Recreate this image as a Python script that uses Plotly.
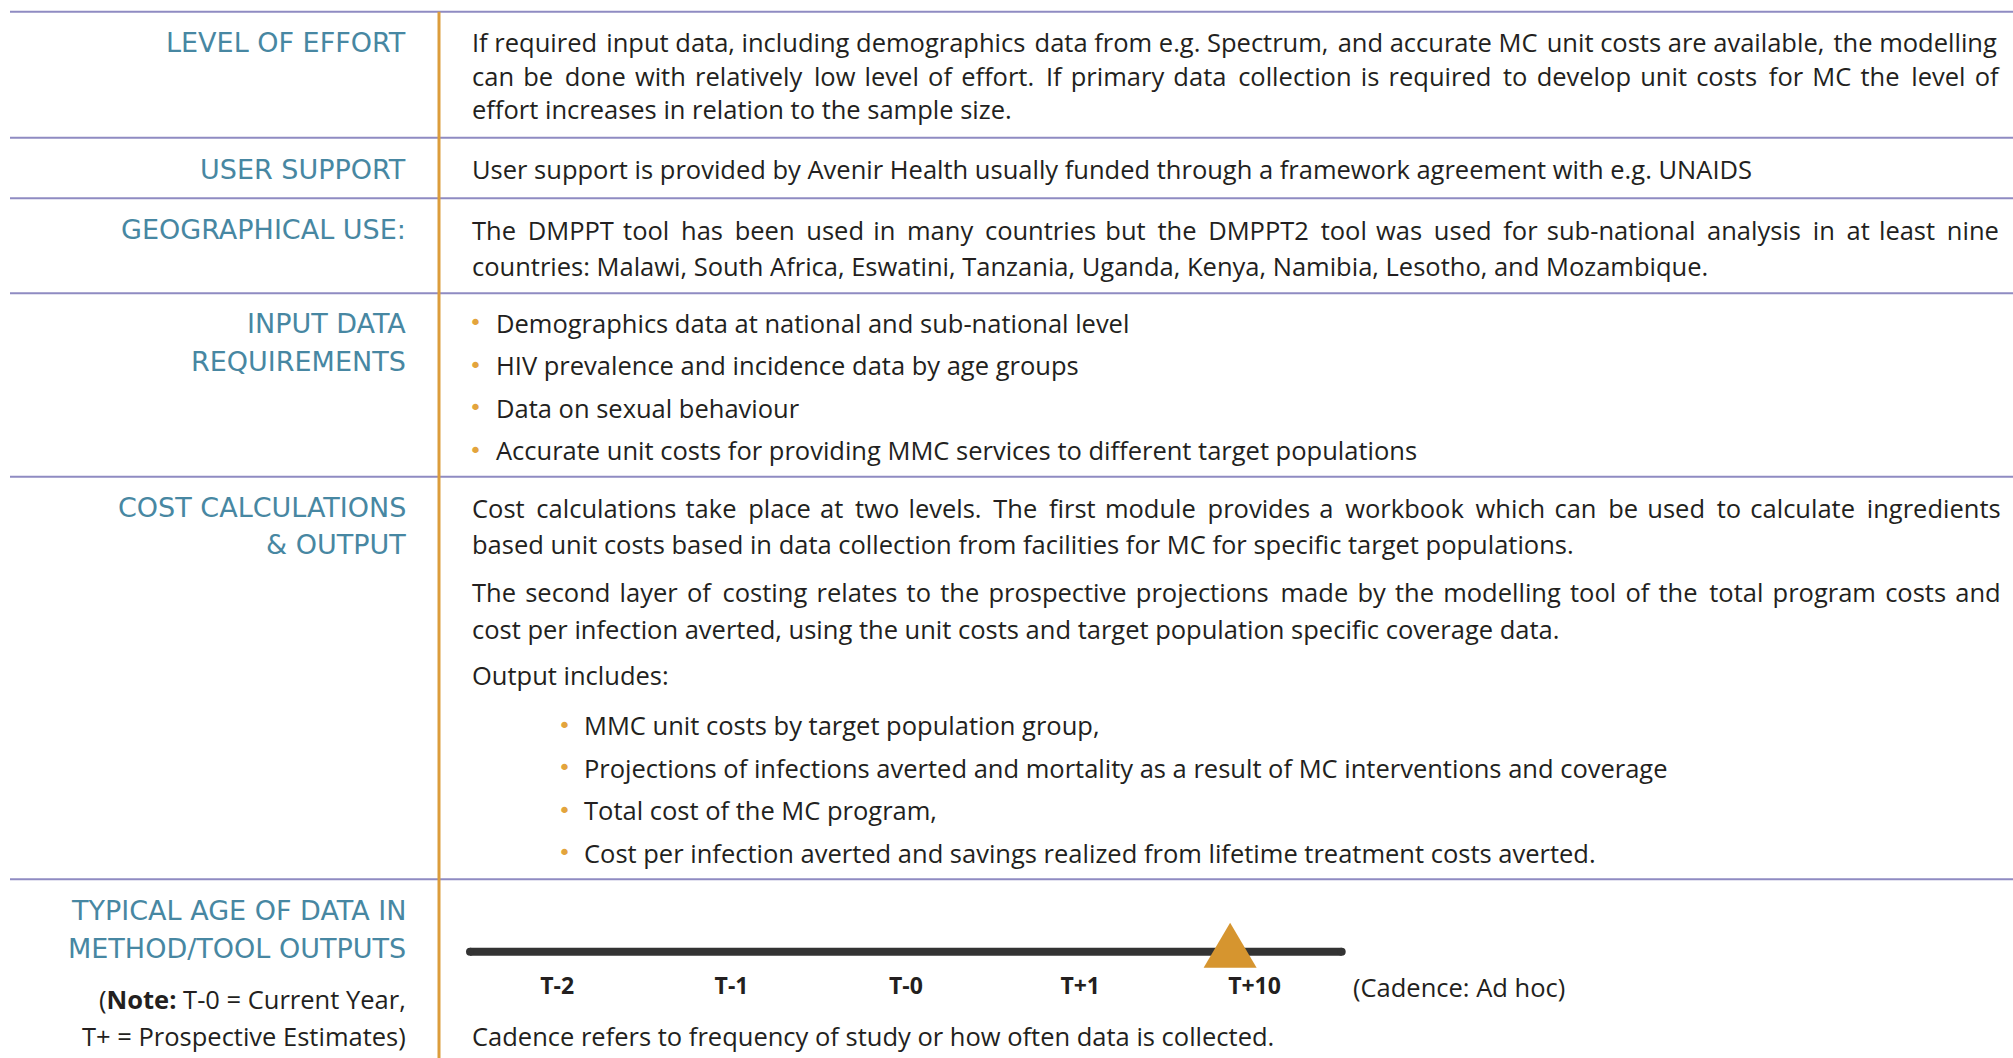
import plotly.graph_objects as go

W, H = 2013, 1058

# ---------------- data ----------------
section_labels = [
    ["LEVEL OF EFFORT"],
    ["USER SUPPORT"],
    ["GEOGRAPHICAL USE:"],
    ["INPUT DATA", "REQUIREMENTS"],
    ["COST CALCULATIONS", "& OUTPUT"],
    ["TYPICAL AGE OF DATA IN", "METHOD/TOOL OUTPUTS"],
]

effort_lines = [
    "If required input data, including demographics data from e.g. Spectrum, and accurate MC unit costs are available, the modelling",
    "can be done with relatively low level of effort. If primary data collection is required to develop unit costs for MC the level of",
    "effort increases in relation to the sample size.",
]
support_lines = [
    "User support is provided by Avenir Health usually funded through a framework agreement with e.g. UNAIDS",
]
geo_lines = [
    "The DMPPT tool has been used in many countries but the DMPPT2 tool was used for sub-national analysis in at least nine",
    "countries: Malawi, South Africa, Eswatini, Tanzania, Uganda, Kenya, Namibia, Lesotho, and Mozambique.",
]
input_bullets = [
    "Demographics data at national and sub-national level",
    "HIV prevalence and incidence data by age groups",
    "Data on sexual behaviour",
    "Accurate unit costs for providing MMC services to different target populations",
]
cost_para1 = [
    "Cost calculations take place at two levels. The first module provides a workbook which can be used to calculate ingredients",
    "based unit costs based in data collection from facilities for MC for specific target populations.",
]
cost_para2 = [
    "The second layer of costing relates to the prospective projections made by the modelling tool of the total program costs and",
    "cost per infection averted, using the unit costs and target population specific coverage data.",
]
output_heading = "Output includes:"
output_bullets = [
    "MMC unit costs by target population group,",
    "Projections of infections averted and mortality as a result of MC interventions and coverage",
    "Total cost of the MC program,",
    "Cost per infection averted and savings realized from lifetime treatment costs averted.",
]
note_lines = ["(<b>Note:</b> T-0 = Current Year,", "T+ = Prospective Estimates)"]

timeline_labels = ["T-2", "T-1", "T-0", "T+1", "T+10"]
timeline_index = [0, 1, 2, 3, 4]
typical_age_index = 3.86          # where the marker sits on the T-scale
cadence_text = "(Cadence: Ad hoc)"
cadence_note = "Cadence refers to frequency of study or how often data is collected."

# ---------------- styles / layout ----------------
BODY_FONT = "Open Sans"
LABEL_FONT = "DejaVu Sans"
TEXT_C = "#231f20"
LABEL_C = "#4787a2"
BULLET_C = "#e3a43c"
RULE_C = "#8f8bc2"
ORANGE_C = "#dc9d3c"
BODY_SIZE = 25.5
BODY_W = 400
LABEL_SIZE = 27

LABEL_RIGHT = 408
BODY_LEFT = 470
BULLET1_X, BULLET1_TEXT = 475, 494
BULLET2_X, BULLET2_TEXT = 564, 582

label_ys = [[42.5], [169.2], [229.7], [323.3, 361.3], [508, 544.7], [910.8, 948.8]]
effort_ys = [42.5, 76, 109.3]
support_ys = [169.2]
geo_ys = [229.7, 266]
input_ys = [322.7, 365, 407.7, 450]
para1_ys = [508, 543.5]
para2_ys = [591.8, 629]
heading_y = 675.3
output_ys = [725.4, 767.8, 810.1, 852.5]
note_ys = [999, 1035.7]
cadence_y = 987
cadence_x = 1351
cadence_note_y = 1035.7
rule_ys = [11.7, 137.7, 198.3, 293.3, 476.7, 879.3]
ORANGE_X = 439
LINE_Y = 951.7

# extra width (px) to spread over word gaps so justified lines reach the right edge
effort_justify = [14, 77, 0]
geo_justify = [92, 0]
para1_justify = [76, 0]
para2_justify = [58, 0]
HAIR = "\u200a"
HAIR_EM = 0.101


def justify(text, extra, size=BODY_SIZE):
    if extra <= 0:
        return text
    words = text.split(" ")
    gaps = len(words) - 1
    n = int(round(extra / (HAIR_EM * size)))
    out = words[0]
    acc = 0
    for i, w in enumerate(words[1:], start=1):
        target = int(round(n * i / gaps))
        k = target - acc
        acc = target
        out += " " + HAIR * k + w
    return out


def px(x):
    return x / W


def py(y):
    return 1 - y / H


annotations = []


def add_text(text, x, y, size=BODY_SIZE, color=TEXT_C, xanchor="left",
             family=BODY_FONT, weight=BODY_W):
    annotations.append(dict(
        text=text, x=px(x), y=py(y), xref="paper", yref="paper",
        xanchor=xanchor, yanchor="middle", showarrow=False,
        font=dict(family=family, size=size, color=color, weight=weight),
    ))


def add_bullet(x, y):
    add_text("•", x, y, size=22, color=BULLET_C, xanchor="center",
             family="DejaVu Sans", weight=400)


# section labels
for lines, ys in zip(section_labels, label_ys):
    for t, y in zip(lines, ys):
        add_text(t, LABEL_RIGHT, y, size=LABEL_SIZE, color=LABEL_C,
                 xanchor="right", family=LABEL_FONT, weight=400)

for t, y, e in zip(effort_lines, effort_ys, effort_justify):
    add_text(justify(t, e), BODY_LEFT, y)
for t, y in zip(support_lines, support_ys):
    add_text(t, BODY_LEFT, y)
for t, y, e in zip(geo_lines, geo_ys, geo_justify):
    add_text(justify(t, e), BODY_LEFT, y)
for t, y in zip(input_bullets, input_ys):
    add_bullet(BULLET1_X, y)
    add_text(t, BULLET1_TEXT, y)
for t, y, e in zip(cost_para1, para1_ys, para1_justify):
    add_text(justify(t, e), BODY_LEFT, y)
for t, y, e in zip(cost_para2, para2_ys, para2_justify):
    add_text(justify(t, e), BODY_LEFT, y)
add_text(output_heading, BODY_LEFT, heading_y)
for t, y in zip(output_bullets, output_ys):
    add_bullet(BULLET2_X, y)
    add_text(t, BULLET2_TEXT, y)
for t, y in zip(note_lines, note_ys):
    add_text(t, LABEL_RIGHT, y, xanchor="right")
add_text(cadence_text, cadence_x, cadence_y)
add_text(cadence_note, BODY_LEFT, cadence_note_y)

shapes = []
for y in rule_ys:
    shapes.append(dict(type="line", xref="paper", yref="paper",
                       x0=px(10), x1=1, y0=py(y), y1=py(y),
                       line=dict(color=RULE_C, width=2)))
shapes.append(dict(type="line", xref="paper", yref="paper",
                   x0=px(ORANGE_X), x1=px(ORANGE_X), y0=py(rule_ys[0]), y1=0,
                   line=dict(color=ORANGE_C, width=3)))

# timeline bar across the whole T-scale
shapes.append(dict(type="line", xref="x domain", yref="y",
                   x0=0, x1=1, y0=0, y1=0,
                   line=dict(color="#333333", width=8)))
# rounded ends
for xd in (0, 1):
    shapes.append(dict(type="circle", xref="x domain", yref="y",
                       xsizemode="pixel", ysizemode="pixel",
                       xanchor=xd, yanchor=0, x0=-4, x1=4, y0=-4, y1=4,
                       fillcolor="#333333", line=dict(width=0)))
# triangle marker at typical data age
shapes.append(dict(type="path", xref="x", yref="paper",
                   xsizemode="pixel", ysizemode="pixel",
                   xanchor=typical_age_index, yanchor=py(LINE_Y),
                   path="M -26.5,-16 L 26.5,-16 L 0,29 Z",
                   fillcolor="#d6952f", line=dict(width=0)))

fig = go.Figure()
fig.add_trace(go.Scatter(x=timeline_index, y=[0] * len(timeline_index),
                         mode="markers", marker=dict(opacity=0),
                         hoverinfo="skip", showlegend=False))

bar_left, bar_right = 470, 1341.7
line_half = 18.3
fig.update_layout(
    width=W, height=H,
    margin=dict(l=0, r=0, t=0, b=0),
    paper_bgcolor="white", plot_bgcolor="rgba(0,0,0,0)",
    showlegend=False,
    annotations=annotations,
    shapes=shapes,
    xaxis=dict(domain=[px(bar_left), px(bar_right)], range=[-0.5, 4.5],
               tickvals=timeline_index,
               ticktext=["<b>%s</b>" % t for t in timeline_labels],
               tickfont=dict(family=BODY_FONT, size=23, color=TEXT_C),
               showgrid=False, zeroline=False, showline=False, ticks="",
               fixedrange=True),
    yaxis=dict(domain=[py(LINE_Y + line_half), py(LINE_Y - line_half)],
               range=[-1, 1], visible=False, fixedrange=True),
)

fig.write_html("out.html", config={"displayModeBar": False},
               post_script="document.body.style.margin='0';document.body.style.overflow='hidden';")
